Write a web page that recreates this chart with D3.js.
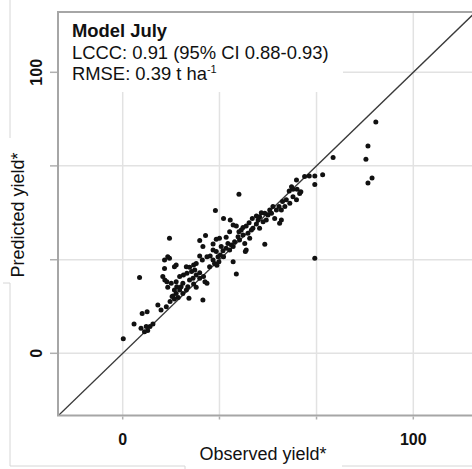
<!DOCTYPE html>
<html>
<head>
  <meta charset="utf-8">
  <title>Model July: observed vs predicted yield</title>
  <style>
    body { margin: 0; background: #fff; }
    svg text { font-family: "Liberation Sans", Arial, sans-serif; fill: #111; }
    .grid { stroke: #e2e2e2; stroke-width: 1.5; }
    .frame { stroke: #a6a6a6; stroke-width: 2; fill: none; }
    .tick { stroke: #b0b0b0; stroke-width: 1.5; }
    .tick_label { font-size: 16px; font-weight: bold; }
    .axis_title { font-size: 18px; }
    .note { font-size: 18.4px; }
    .crop { stroke: #d6d6d6; stroke-width: 1; }
  </style>
</head>
<body>
  <svg id="canvas"></svg>
  <script src="https://cdn.jsdelivr.net/npm/d3@7"></script>
  <script>

    const gridValues = [0, 33.3, 66.7, 100];
    const tickLabels = ["0", "", "", "100"];

    const observed = [72.4, 68.8, 66.1, 64.2, 66.1, 59.8, 58.1, 58.6, 57.3, 60.0,
      61.3, 59.8, 57.5, 56.3, 55.0, 55.8, 54.6, 52.9, 54.6, 54.0,
      52.3, 51.2, 50.0, 48.9, 47.7, 47.1, 46.0, 49.4, 48.3, 44.6,
      43.5, 46.0, 42.5, 41.4, 44.8, 47.1, 48.9, 40.0, 31.9, 34.7,
      37.0, 38.0, 39.1, 36.8, 40.0, 41.4, 43.1, 40.2, 42.0, 43.7,
      38.5, 35.6, 33.3, 32.2, 28.5, 26.5, 31.1, 33.9, 35.6, 36.8,
      34.5, 38.0, 42.5, 42.2, 36.2, 37.4, 16.1, 15.5, 16.1, 14.4,
      18.4, 17.8, 21.9, 23.0, 24.4, 25.3, 26.5, 27.4, 27.6, 29.0,
      30.1, 31.1, 31.6, 32.4, 33.1, 29.9, 34.7, 33.6, 66.1, 39.1,
      38.0, 14.4, 13.8, 14.5, 15.2, 16.7, 15.5, 18.4, 19.6, 20.9,
      22.1, 23.0, 24.2, 25.3, 26.5, 27.8, 28.3, 29.0, 26.5, 24.8,
      23.7, 20.7, 20.1, 19.6, 18.4, 17.3, 17.8, 19.1, 20.7, 21.9,
      22.8, 22.4, 24.4, 25.3, 27.6, 5.8, 12.1, 13.2, 15.0, 16.3,
      17.0, 6.7, 8.4, 3.9, 6.3, 8.1, 8.6, 9.4, 7.5, 10.4,
      0.2, 17.8, 18.6, 31.1, 32.2, 32.8, 39.7, 40.8, 44.3, 46.6,
      50.6, 51.7, 53.8, 58.6, 60.9, 87.1, 84.4, 83.7, 85.8, 84.4,
      62.6];

    const predicted = [69.7, 63.5, 63.1, 63.1, 60.1, 61.7, 59.3, 58.4, 57.8, 58.4,
      57.5, 54.6, 53.4, 54.6, 54.0, 52.2, 51.0, 51.0, 47.4, 46.3,
      48.0, 49.8, 49.2, 49.8, 50.0, 48.6, 48.9, 47.4, 46.8, 48.0,
      46.5, 46.0, 45.3, 44.8, 44.5, 44.5, 38.8, 56.6, 50.8, 48.0,
      47.4, 45.7, 45.3, 43.3, 43.3, 42.1, 42.7, 40.3, 39.1, 40.9,
      39.7, 41.3, 40.9, 40.6, 41.9, 40.1, 38.9, 38.0, 37.4, 36.8,
      36.5, 38.0, 36.8, 36.2, 39.1, 38.5, 40.9, 34.4, 33.8, 33.2,
      31.4, 30.8, 30.8, 30.6, 31.4, 32.0, 34.6, 33.2, 38.0, 34.4,
      34.6, 33.2, 32.0, 31.3, 32.6, 30.8, 34.4, 35.0, 33.8, 28.2,
      32.6, 30.2, 27.3, 26.1, 25.5, 24.9, 23.5, 25.5, 27.3, 27.9,
      28.5, 26.1, 26.7, 27.9, 26.7, 27.3, 25.5, 24.9, 28.7, 29.6,
      29.1, 24.9, 23.7, 22.5, 21.3, 20.4, 19.3, 19.9, 21.3, 22.5,
      19.6, 23.7, 24.7, 23.5, 19.0, 27.0, 17.2, 15.4, 16.6, 18.4,
      20.2, 14.2, 14.8, 10.4, 8.9, 9.5, 8.1, 9.5, 7.7, 10.4,
      5.2, 22.5, 23.7, 36.8, 36.2, 34.4, 41.5, 43.9, 43.9, 47.4,
      51.0, 52.2, 52.2, 55.7, 56.9, 82.3, 73.8, 69.1, 62.4, 60.6,
      62.9];

    const noteLines = ["LCCC: 0.91 (95% CI 0.88-0.93)"];

    const dims = { width: 472, height: 469, left: 58, top: 12, right: 480, bottom: 415.5 };

    const svg = d3.select("svg#canvas")
      .attr("width", dims.width)
      .attr("height", dims.height);

    const x = d3.scaleLinear().domain([0, 100]).range([122.7, 413.3]);
    const y = d3.scaleLinear().domain([0, 100]).range([353.3, 72.3]);

    // faint edges left over from the cropped figure
    svg.append("line").attr("class", "crop").attr("x1", 10).attr("x2", 10).attr("y1", 0).attr("y2", 138);
    svg.append("line").attr("class", "crop").attr("x1", 10).attr("x2", 10).attr("y1", 283).attr("y2", 466);
    svg.append("line").attr("class", "crop").attr("x1", 3).attr("x2", 10).attr("y1", 283).attr("y2", 283);
    svg.append("line").attr("class", "crop").attr("x1", 10).attr("x2", 185).attr("y1", 466).attr("y2", 466);
    svg.append("line").attr("class", "crop").attr("x1", 185).attr("x2", 185).attr("y1", 466).attr("y2", 469);
    svg.append("line").attr("class", "crop").attr("x1", 342).attr("x2", 472).attr("y1", 466).attr("y2", 466);

    svg.append("defs").append("clipPath").attr("id", "plotclip")
      .append("rect")
      .attr("x", dims.left).attr("y", dims.top)
      .attr("width", dims.right - dims.left).attr("height", dims.bottom - dims.top);

    const plot = svg.append("g").attr("clip-path", "url(#plotclip)");

    plot.selectAll(".vgrid")
      .data(gridValues)
      .enter().append("line")
      .attr("class", "grid")
      .attr("x1", d => x(d)).attr("x2", d => x(d))
      .attr("y1", dims.top).attr("y2", dims.bottom);

    plot.selectAll(".hgrid")
      .data(gridValues)
      .enter().append("line")
      .attr("class", "grid")
      .attr("x1", dims.left).attr("x2", dims.right)
      .attr("y1", d => y(d)).attr("y2", d => y(d));

    // white panel behind the legend text
    plot.append("rect")
      .attr("x", dims.left).attr("y", dims.top)
      .attr("width", 343 - dims.left).attr("height", 92 - dims.top)
      .attr("fill", "#fff");

    const lo = x.invert(dims.left);
    plot.append("line")
      .attr("x1", x(lo)).attr("y1", y(lo))
      .attr("x2", x(130)).attr("y2", y(130))
      .attr("stroke", "#3a3a3a")
      .attr("stroke-width", 1.4);

    plot.selectAll(".dot")
      .data(observed.map((o, i) => ({ obs: o, pred: predicted[i] })))
      .enter().append("circle")
      .attr("class", "dot")
      .attr("cx", d => x(d.obs))
      .attr("cy", d => y(d.pred))
      .attr("r", 2.5)
      .attr("fill", "#111");

    // frame: left, top and bottom edges (right edge falls outside the picture)
    svg.append("path")
      .attr("class", "frame")
      .attr("d", "M" + dims.right + "," + dims.top + "H" + dims.left + "V" + dims.bottom + "H" + dims.right);

    svg.selectAll(".xtick")
      .data(gridValues)
      .enter().append("line")
      .attr("class", "tick")
      .attr("x1", d => x(d)).attr("x2", d => x(d))
      .attr("y1", dims.bottom + 1).attr("y2", dims.bottom + 4);

    svg.selectAll(".ytick")
      .data(gridValues)
      .enter().append("line")
      .attr("class", "tick")
      .attr("x1", dims.left - 8).attr("x2", dims.left - 1)
      .attr("y1", d => y(d)).attr("y2", d => y(d));

    svg.selectAll(".xlabel")
      .data(gridValues)
      .enter().append("text")
      .attr("class", "tick_label")
      .attr("x", d => x(d))
      .attr("y", 445)
      .attr("text-anchor", "middle")
      .text((_, i) => tickLabels[i]);

    svg.selectAll(".ylabel")
      .data(gridValues)
      .enter().append("text")
      .attr("class", "tick_label")
      .attr("transform", d => "translate(42," + y(d) + ")rotate(-90)")
      .attr("text-anchor", "middle")
      .text((_, i) => tickLabels[i]);

    svg.append("text")
      .attr("class", "axis_title")
      .attr("x", 263).attr("y", 460)
      .attr("text-anchor", "middle")
      .text("Observed yield*");

    svg.append("text")
      .attr("class", "axis_title")
      .attr("transform", "translate(24,215)rotate(-90)")
      .attr("text-anchor", "middle")
      .text("Predicted yield*");

    const note = svg.append("g").attr("transform", "translate(72,0)");
    note.append("text").attr("class", "note").attr("y", 37)
      .style("font-weight", "bold").text("Model July");
    note.append("text").attr("class", "note").attr("y", 59).text(noteLines[0]);
    const rmse = note.append("text").attr("class", "note").attr("y", 80);
    rmse.append("tspan").text("RMSE: 0.39 t ha");
    rmse.append("tspan").attr("dy", -7).style("font-size", "11px").text("-1");

  </script>
</body>
</html>
